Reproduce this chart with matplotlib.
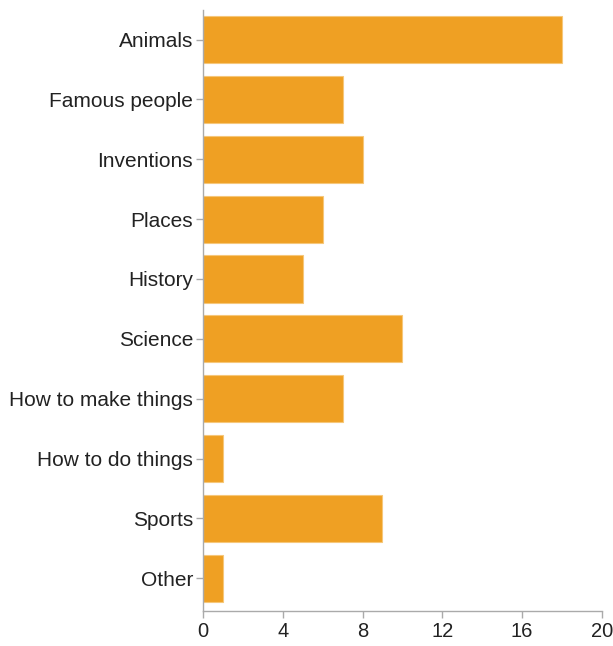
import matplotlib.pyplot as plt

categories = ["Animals", "Famous people", "Inventions", "Places", "History",
              "Science", "How to make things", "How to do things", "Sports", "Other"]
counts = [18, 7, 8, 6, 5, 10, 7, 1, 9, 1]
x_ticks = [0, 4, 8, 12, 16, 20]

plt.rcParams["font.family"] = ["Liberation Sans", "DejaVu Sans"]

fig = plt.figure(figsize=(6.13, 6.46), dpi=100)
ax = fig.add_axes([0.331, 0.054, 0.651, 0.931])

ypos = list(range(len(categories)))
ax.barh(ypos, counts, height=0.79, color="#EFA023", edgecolor="#F6C77A", linewidth=0.8)

ax.set_yticks(ypos)
ax.set_yticklabels(categories, fontsize=15, color="#222222")
ax.set_ylim(len(categories) - 0.45, -0.5)

ax.set_xlim(0, 20)
ax.set_xticks(x_ticks)
ax.set_xticklabels([str(t) for t in x_ticks], fontsize=14.5, color="#222222")

for side in ["top", "right"]:
    ax.spines[side].set_visible(False)
for side in ["left", "bottom"]:
    ax.spines[side].set_color("#AAAAAA")
    ax.spines[side].set_linewidth(1)
ax.tick_params(axis="both", colors="#AAAAAA", labelcolor="#222222", length=5, width=1)
ax.tick_params(axis="y", pad=2)
ax.tick_params(axis="x", pad=3)

fig.savefig("out.png", dpi=100)
